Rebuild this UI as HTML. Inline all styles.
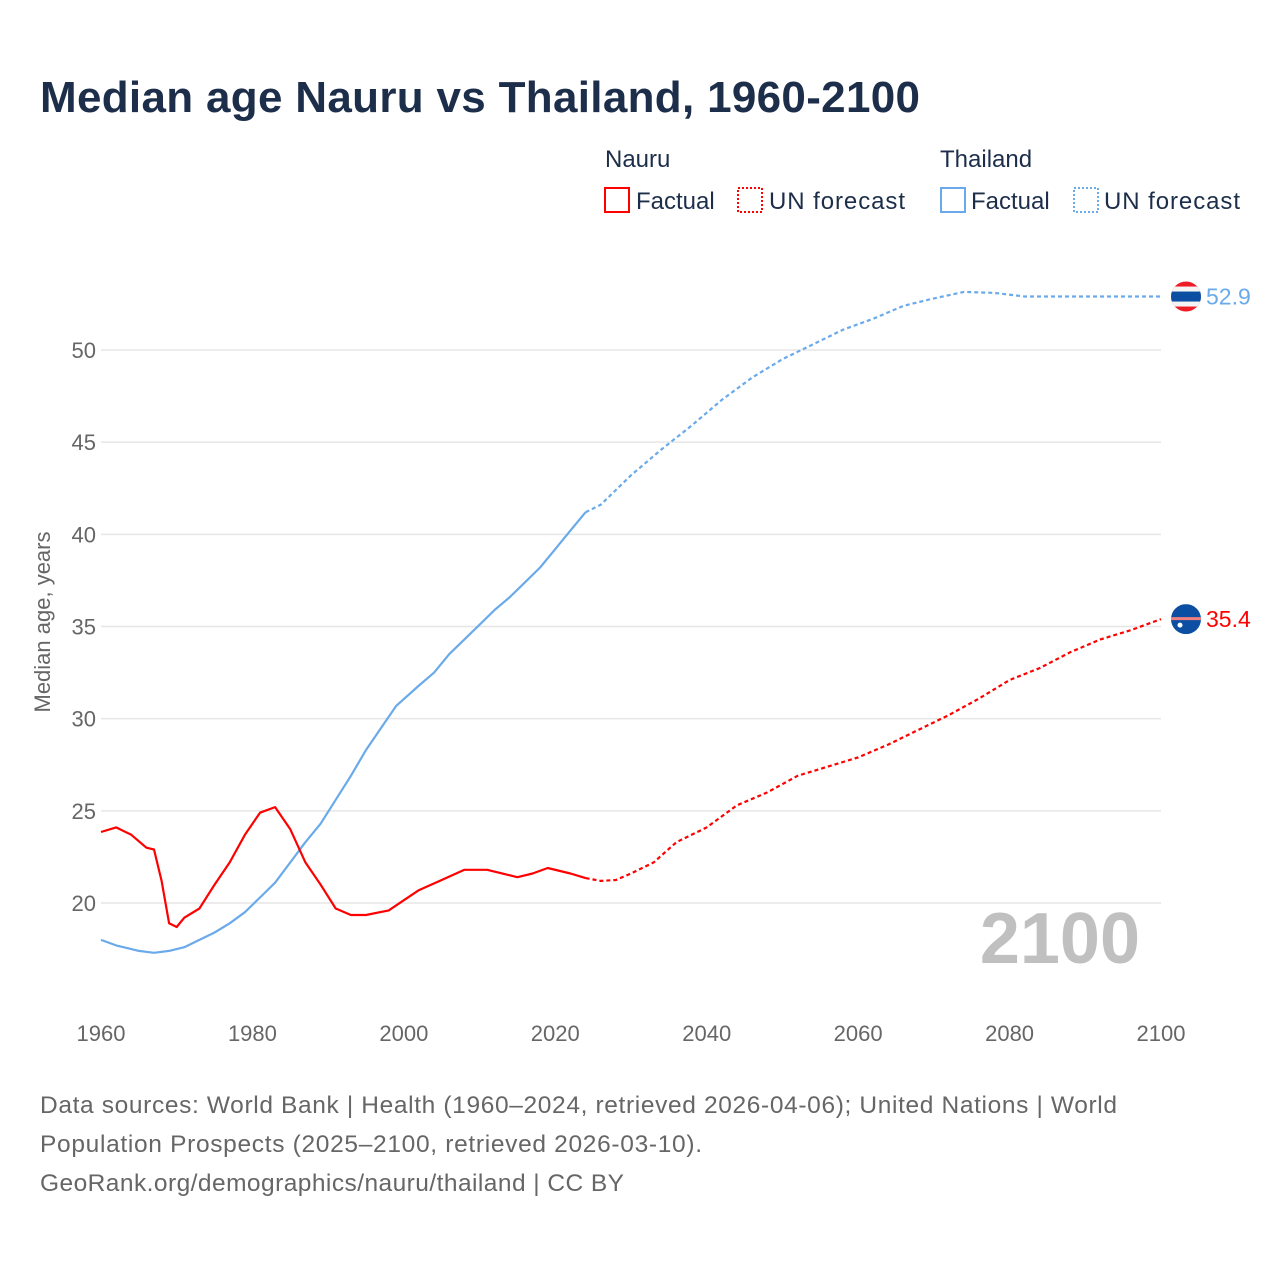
<!DOCTYPE html>
<html><head><meta charset="utf-8"><style>
body{margin:0;background:#fff;font-family:"Liberation Sans",sans-serif;}
svg text{font-family:"Liberation Sans",sans-serif;}
</style></head><body>
<svg id="chart" width="1280" height="1280" viewBox="0 0 1280 1280">
<text x="40" y="112" font-size="44" font-weight="bold" fill="#1c2e4a" textLength="880">Median age Nauru vs Thailand, 1960-2100</text>
<g>
<text x="605" y="167" font-size="24" fill="#1c2e4a">Nauru</text>
<rect x="605" y="188" width="24" height="24" fill="none" stroke="#ff0000" stroke-width="2"/>
<text x="636" y="209" font-size="24" fill="#1c2e4a">Factual</text>
<rect x="738" y="188" width="24" height="24" fill="none" stroke="#ff0000" stroke-width="2" stroke-dasharray="2,2"/>
<text x="769" y="209" font-size="24" fill="#1c2e4a" textLength="136">UN forecast</text>
<text x="940" y="167" font-size="24" fill="#1c2e4a">Thailand</text>
<rect x="941" y="188" width="24" height="24" fill="none" stroke="#6aaaea" stroke-width="2"/>
<text x="971" y="209" font-size="24" fill="#1c2e4a">Factual</text>
<rect x="1074" y="188" width="24" height="24" fill="none" stroke="#6aaaea" stroke-width="2" stroke-dasharray="2,2"/>
<text x="1104" y="209" font-size="24" fill="#1c2e4a" textLength="136">UN forecast</text>
</g>
<g id="grid"></g>
<text x="1140" y="963" font-size="72" font-weight="bold" fill="#c0c0c0" text-anchor="end">2100</text>
<text transform="translate(50,622) rotate(-90)" font-size="22" fill="#666" text-anchor="middle">Median age, years</text>
<g id="series"></g>
<g font-size="24.5" fill="#666">
<text x="40" y="1113" textLength="1077">Data sources: World Bank | Health (1960–2024, retrieved 2026-04-06); United Nations | World</text>
<text x="40" y="1152" textLength="662">Population Prospects (2025–2100, retrieved 2026-03-10).</text>
<text x="40" y="1191" textLength="584">GeoRank.org/demographics/nauru/thailand | CC BY</text>
</g>
</svg>
<script>
const xTicks=[1960,1980,2000,2020,2040,2060,2080,2100];
const yTicks=[20,25,30,35,40,45,50];
const nauruYears=[1960,1962,1964,1966,1967,1968,1969,1970,1971,1973,1975,1977,1979,1981,1983,1985,1987,1989,1991,1993,1995,1998,2000,2002,2005,2008,2011,2015,2017,2019,2022,2024];
const nauruValues=[23.85,24.1,23.7,23.0,22.9,21.2,18.9,18.7,19.2,19.7,21.0,22.2,23.7,24.9,25.2,24.0,22.2,21.0,19.7,19.35,19.35,19.6,20.15,20.7,21.25,21.8,21.8,21.4,21.6,21.9,21.6,21.35];
const nauruFYears=[2024,2026,2028,2030,2033,2036,2040,2044,2048,2052,2056,2060,2064,2068,2072,2076,2080,2084,2088,2092,2096,2100];
const nauruFValues=[21.35,21.2,21.25,21.6,22.2,23.3,24.1,25.3,26.0,26.9,27.4,27.9,28.6,29.4,30.2,31.1,32.1,32.75,33.6,34.3,34.8,35.4];
const thaiYears=[1960,1962,1965,1967,1969,1971,1973,1975,1977,1979,1981,1983,1985,1987,1989,1991,1993,1995,1997,1999,2002,2004,2006,2008,2010,2012,2014,2016,2018,2020,2022,2024];
const thaiValues=[18.0,17.7,17.4,17.3,17.4,17.6,18.0,18.4,18.9,19.5,20.3,21.1,22.2,23.3,24.3,25.6,26.9,28.3,29.5,30.7,31.8,32.5,33.5,34.3,35.1,35.9,36.6,37.4,38.2,39.2,40.2,41.2];
const thaiFYears=[2024,2026,2030,2034,2038,2042,2046,2050,2054,2058,2062,2066,2070,2074,2078,2082,2090,2100];
const thaiFValues=[41.2,41.6,43.2,44.6,45.9,47.3,48.5,49.5,50.3,51.1,51.7,52.4,52.8,53.15,53.1,52.9,52.9,52.9];
const NS="http://www.w3.org/2000/svg";
const xS=v=>101+(v-1960)*(1060/140);
const yS=v=>903-(v-20)*(553/30);
const grid=document.getElementById('grid'),ser=document.getElementById('series');
function mk(tag,attrs,parent){const e=document.createElementNS(NS,tag);for(const k in attrs)e.setAttribute(k,attrs[k]);parent.appendChild(e);return e;}
yTicks.forEach(t=>{
 const l=mk('line',{x1:101,x2:1161,y1:yS(t),y2:yS(t),stroke:'#e6e6e6','stroke-width':1.5},grid);
 
 
 const tx=mk('text',{x:96,y:yS(t)+8,'font-size':22,fill:'#666','text-anchor':'end'},grid);tx.textContent=t;
 
 
});
xTicks.forEach(t=>{
 const tx=mk('text',{x:xS(t),y:1041,'font-size':22,fill:'#666','text-anchor':'middle'},grid);tx.textContent=t;
 
 
});
function line(xs,vs,color,dash,name){
 const d=xs.map((x,i)=>(i?'L':'M')+xS(x).toFixed(1)+','+yS(vs[i]).toFixed(1)).join('');
 const p=mk('path',{d:d,fill:'none',stroke:color,'stroke-width':2.2,'stroke-linejoin':'round'},ser);
 if(dash)p.setAttribute('stroke-dasharray','4,3');
 
 
}
line(thaiYears,thaiValues,'#6aaaea',false,'thailand-factual-line');
line(thaiFYears,thaiFValues,'#6aaaea',true,'thailand-forecast-line');
line(nauruYears,nauruValues,'#ff0000',false,'nauru-factual-line');
line(nauruFYears,nauruFValues,'#ff0000',true,'nauru-forecast-line');
const tv=thaiFValues[thaiFValues.length-1],nv=nauruFValues[nauruFValues.length-1];
const cx=1186;
const tg=mk('g',{},ser);


const ty=yS(tv);
mk('clipPath',{id:'cth'},tg);
mk('circle',{cx:cx,cy:ty,r:15},document.getElementById('cth'));
const tf=mk('g',{'clip-path':'url(#cth)'},tg);
mk('rect',{x:cx-15,y:ty-15,width:30,height:30,fill:'#ee1c25'},tf);
mk('rect',{x:cx-15,y:ty-10,width:30,height:20,fill:'#f4f4f4'},tf);
mk('rect',{x:cx-15,y:ty-5,width:30,height:10,fill:'#0b4ea2'},tf);
const tl=mk('text',{x:1206,y:ty+8,'font-size':23,fill:'#6aaaea'},ser);tl.textContent=tv.toFixed(1);


const ng=mk('g',{},ser);


const ny=yS(nv);
mk('clipPath',{id:'cna'},ng);
mk('circle',{cx:cx,cy:ny,r:15},document.getElementById('cna'));
const nf=mk('g',{'clip-path':'url(#cna)'},ng);
mk('rect',{x:cx-15,y:ny-15,width:30,height:30,fill:'#0b4ea2'},nf);
mk('rect',{x:cx-15,y:ny-2,width:30,height:3,fill:'#f08080'},nf);
mk('circle',{cx:cx-6,cy:ny+6,r:2.5,fill:'#fff'},nf);
const nl=mk('text',{x:1206,y:ny+8,'font-size':23,fill:'#ff0000'},ser);nl.textContent=nv.toFixed(1);


</script>
</body></html>
